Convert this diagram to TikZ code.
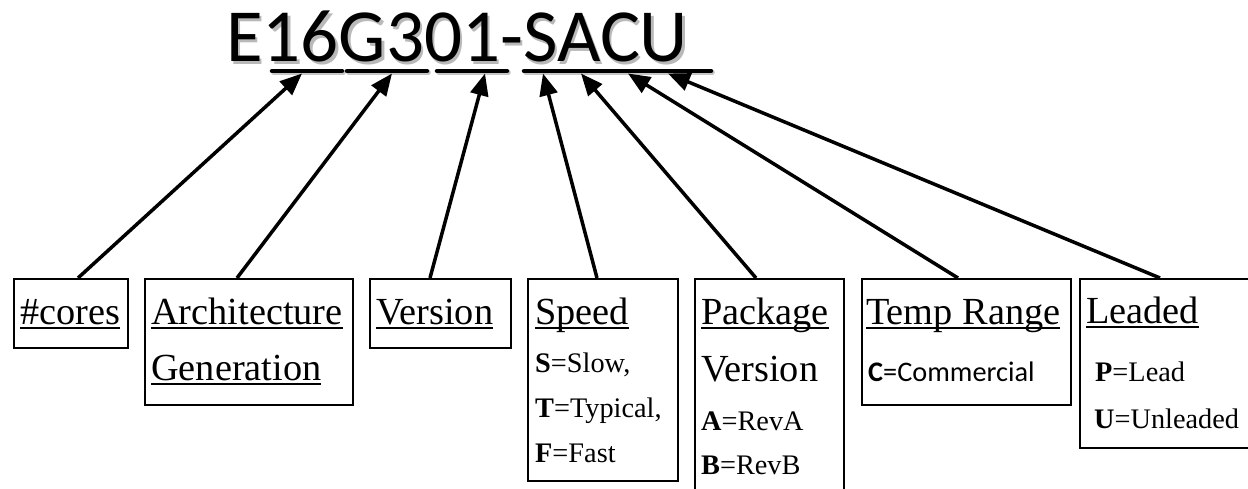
\documentclass[tikz,border=0pt]{standalone}
\usepackage{fontspec}
\setmainfont{Liberation Serif}
\newfontfamily\calfont{Carlito}
\usetikzlibrary{arrows.meta,calc}
\newcommand\uln[1]{\setbox0=\hbox{#1}\rlap{\rule[-5pt]{\wd0}{2pt}}\box0}
\begin{document}
\begin{tikzpicture}[x=1pt,y=-1pt,
  box/.style={draw,line width=2pt,inner sep=0pt,anchor=north west},
  head/.style={anchor=base west,inner sep=0pt,font=\fontsize{38.3}{40}\selectfont},
  sub/.style={anchor=base west,inner sep=0pt,font=\fontsize{28.3}{30}\selectfont},
  calsub/.style={anchor=base west,inner sep=0pt,font=\calfont\fontsize{28.3}{30}\selectfont},
  titlefont/.style={anchor=base west,inner sep=0pt,font=\calfont\fontsize{75}{80}\selectfont},
  conn/.style={line width=3.5pt,-{Triangle[length=22pt,width=18pt]}},
  tul/.style={line width=4.5pt,line cap=round},
  tulshadow/.style={line width=4.5pt,line cap=round,draw=gray!45}]
\clip (0,0) rectangle (1248,489);
\fill[white] (0,0) rectangle (1248,489);

% title
\node[titlefont,text=gray!55] (tshadow) at (228.5,64.5) {E16G301-SACU};
\node[titlefont,text=black] (title) at (226,62) {E16G301-SACU};
\foreach \a/\b in {272/342,347/427,437/507,524/711}{
  \draw[tulshadow] (\a+1.5,72.5) -- (\b+1.5,72.5);
  \draw[tul] (\a,71) -- (\b,71);
}
\coordinate (t1) at (302,73.5);
\coordinate (t2) at (392,73.5);
\coordinate (t3) at (485,73.5);
\coordinate (t4) at (543,73.5);
\coordinate (t5) at (581,73.5);
\coordinate (t6) at (628,73.5);
\coordinate (t7) at (668,73.5);

% boxes
\node[box,minimum width=114pt,minimum height=69pt] (bcores) at (13,278) {};
\node[box,minimum width=208pt,minimum height=126pt] (barch) at (144,278) {};
\node[box,minimum width=141pt,minimum height=69pt] (bver) at (369,278) {};
\node[box,minimum width=150pt,minimum height=202pt] (bspeed) at (527,278) {};
\node[box,minimum width=149pt,minimum height=240pt] (bpack) at (694,278) {};
\node[box,minimum width=209pt,minimum height=126pt] (btemp) at (861,278) {};
\node[box,minimum width=220pt,minimum height=169pt] (blead) at (1079,278) {};

% texts
\node[head] (lcores) at (20,324) {\uln{\#cores}};
\node[head] (larch1) at (151,324) {\uln{Architecture}};
\node[head] (larch2) at (151,380) {\uln{Generation}};
\node[head] (lver) at (376,324) {\uln{Version}};
\node[head] (lspeed) at (535,324) {\uln{Speed}};
\node[sub] (ls1) at (535,372) {\textbf{S}=Slow,};
\node[sub] (ls2) at (535,417) {\textbf{T}=Typical,};
\node[sub] (ls3) at (535,462) {\textbf{F}=Fast};
\node[head] (lpack1) at (701,324) {\uln{Package}};
\node[head] (lpack2) at (701,381) {Version};
\node[sub] (lp1) at (701,430) {\textbf{A}=RevA};
\node[sub] (lp2) at (701,474) {\textbf{B}=RevB};
\node[head] (ltemp) at (866,324) {\uln{Temp Range}};
\node[calsub] (lt1) at (868,381) {\textbf{C}=Commercial};
\node[head] (llead) at (1086,323) {\uln{Leaded}};
\node[sub] (ll1) at (1095,381) {\textbf{P}=Lead};
\node[sub] (ll2) at (1094,428) {\textbf{U}=Unleaded};

% connectors
\draw[conn] ($(bcores.north west)+(65,0)$) -- (t1);
\draw[conn] ($(barch.north west)+(93,0)$) -- (t2);
\draw[conn] ($(bver.north west)+(61,0)$) -- (t3);
\draw[conn] ($(bspeed.north west)+(70,0)$) -- (t4);
\draw[conn] ($(bpack.north west)+(62,0)$) -- (t5);
\draw[conn] ($(btemp.north west)+(97,0)$) -- (t6);
\draw[conn] ($(blead.north west)+(81,0)$) -- (t7);
\end{tikzpicture}
\end{document}
